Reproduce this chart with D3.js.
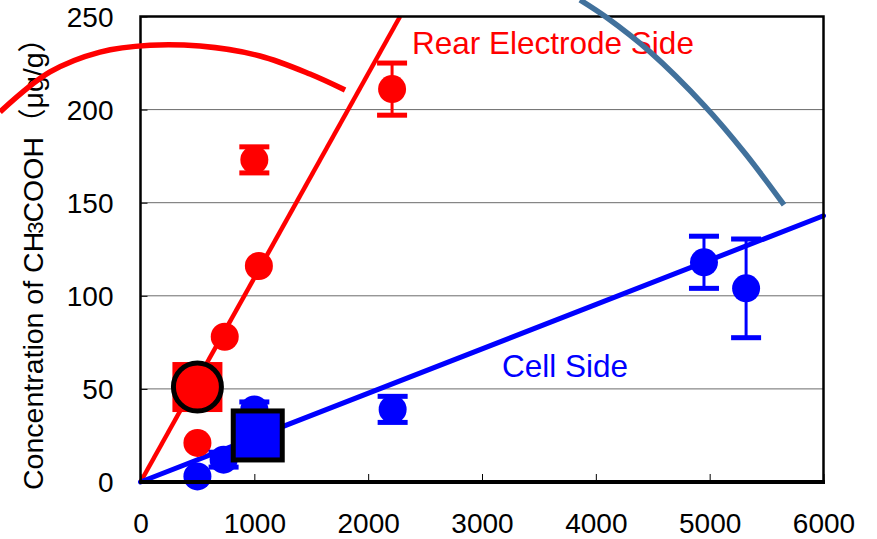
<!DOCTYPE html>
<html>
<head>
<meta charset="utf-8">
<script src="https://cdn.jsdelivr.net/npm/d3@7"></script>
<style>
  body { margin: 0; background: #fff; }
  text { font-family: Arial, "Liberation Sans", "Noto Sans CJK JP", sans-serif; }
</style>
</head>
<body>
<script>
// data
const xTicks = [0, 1000, 2000, 3000, 4000, 5000, 6000];
const yTicks = [0, 50, 100, 150, 200, 250];
const gridVals = [50, 100, 150, 200];

// rear electrode side
const rearX = [500, 740, 1040, 1000, 2210];
const rearY = [21, 78, 116, 173, 211];
const rearErr = [0, 0, 0, 7, 14];
const rearBig = [500, 51];
const rearFit = [[0, 0], [2280, 250]];

// cell side
const cellX = [500, 730, 1000, 2215, 4950, 5320];
const cellY = [3, 12, 39, 39, 118, 104];
const cellErr = [0, 4, 4, 7, 14, 26.5];
const cellBig = [1030, 25];
const cellFit = [[0, 0], [6000, 143]];

// hand drawn strokes laid over the chart
const redStrokeX = [-1234, -795, -356, 83, 523, 1050, 1489, 1797];
const redStrokeY = [198.7, 220.2, 230.9, 234.6, 234.1, 228.8, 219.1, 210.5];
const steelStrokeX = [3861, 4089, 4476, 4957, 5309, 5653];
const steelStrokeY = [258.9, 249.7, 231, 201.9, 176.7, 148.8];

const width = 877, height = 539;
const RED = "#ff0000", BLUE = "#0000ff", STEEL = "#41719c";

const x = d3.scaleLinear().domain([0, 6000]).range([140.5, 823.5]);
const y = d3.scaleLinear().domain([0, 250]).range([482, 16.5]);

const svg = d3.select("body").append("svg")
  .attr("width", width)
  .attr("height", height);

// gridlines
svg.append("g")
  .selectAll("line")
  .data(gridVals)
  .join("line")
  .attr("x1", x(0)).attr("x2", x(6000))
  .attr("y1", d => y(d)).attr("y2", d => y(d))
  .attr("stroke", "#6b6b6b")
  .attr("stroke-width", 1);

// fit lines
const line = d3.line().x(d => x(d[0])).y(d => y(d[1]));
svg.append("path").attr("d", line(rearFit))
  .attr("fill", "none").attr("stroke", RED).attr("stroke-width", 4.5);
svg.append("path").attr("d", line(cellFit))
  .attr("fill", "none").attr("stroke", BLUE).attr("stroke-width", 5)
  .attr("stroke-linecap", "round");

function drawSeries(xs, ys, errs, color) {
  const pts = xs.map((v, i) => ({x: v, y: ys[i], e: errs[i]}));
  const g = svg.append("g");
  const eb = g.selectAll("g.eb").data(pts.filter(d => d.e > 0)).join("g");
  eb.append("line")
    .attr("x1", d => x(d.x)).attr("x2", d => x(d.x))
    .attr("y1", d => y(d.y + d.e)).attr("y2", d => y(d.y - d.e))
    .attr("stroke", color).attr("stroke-width", 3);
  eb.selectAll("rect")
    .data(d => [d.y + d.e, d.y - d.e].map(v => ({x: d.x, v})))
    .join("rect")
    .attr("x", d => x(d.x) - 15).attr("width", 30)
    .attr("y", d => y(d.v) - 2.5).attr("height", 5)
    .attr("fill", color);
  g.selectAll("circle").data(pts).join("circle")
    .attr("cx", d => x(d.x)).attr("cy", d => y(d.y))
    .attr("r", 14)
    .attr("fill", color);
}

drawSeries(rearX, rearY, rearErr, RED);
drawSeries(cellX, cellY, cellErr, BLUE);

// highlighted points
svg.append("rect")
  .attr("x", x(rearBig[0]) - 25).attr("y", y(rearBig[1]) - 25)
  .attr("width", 50).attr("height", 50)
  .attr("fill", RED);
svg.append("circle")
  .attr("cx", x(rearBig[0])).attr("cy", y(rearBig[1]))
  .attr("r", 24)
  .attr("fill", RED).attr("stroke", "#000").attr("stroke-width", 5);
svg.append("rect")
  .attr("x", x(cellBig[0]) - 24.5).attr("y", y(cellBig[1]) - 24.5)
  .attr("width", 49).attr("height", 49)
  .attr("fill", BLUE).attr("stroke", "#000").attr("stroke-width", 5);

// axes
const xAxis = svg.append("g")
  .attr("transform", `translate(0,${y(0)})`)
  .call(d3.axisBottom(x).tickValues(xTicks).tickSize(-8).tickFormat(d3.format("d")));
xAxis.select(".domain").remove();
xAxis.selectAll("line").attr("stroke", "#000").attr("stroke-width", 1);
xAxis.selectAll("text")
  .attr("y", 51).attr("dy", 0)
  .attr("fill", "#000")
  .style("font-size", "28px")
  .style("font-family", "Arial, 'Liberation Sans', sans-serif");

const yAxis = svg.append("g")
  .attr("transform", `translate(${x(0)},0)`)
  .call(d3.axisLeft(y).tickValues(yTicks).tickSize(-7).tickFormat(d3.format("d")));
yAxis.select(".domain").remove();
yAxis.selectAll("line").attr("stroke", "#000").attr("stroke-width", 1);
yAxis.selectAll("text")
  .attr("x", -27).attr("dy", "0.35em")
  .attr("fill", "#000")
  .style("font-size", "28px")
  .style("font-family", "Arial, 'Liberation Sans', sans-serif");

// frame
svg.append("rect")
  .attr("x", x(0)).attr("y", y(250))
  .attr("width", x(6000) - x(0)).attr("height", y(0) - y(250))
  .attr("fill", "none").attr("stroke", "#000").attr("stroke-width", 2.5);
svg.append("line")
  .attr("x1", x(0) - 1).attr("x2", x(6000) + 1.5)
  .attr("y1", y(0)).attr("y2", y(0))
  .attr("stroke", "#000").attr("stroke-width", 4);

// series labels
svg.append("text")
  .attr("x", 412).attr("y", 54)
  .attr("fill", RED)
  .style("font-size", "31.5px")
  .text("Rear Electrode Side");
svg.append("text")
  .attr("x", 502).attr("y", 377)
  .attr("fill", BLUE)
  .style("font-size", "31.5px")
  .text("Cell Side");

// y axis title
const title = svg.append("text")
  .attr("transform", "translate(43,490) rotate(-90)")
  .attr("fill", "#000")
  .style("font-size", "28.5px");
title.append("tspan").text("Concentration of CH");
title.append("tspan").attr("dx", -2).style("font-size", "22px").text("3");
title.append("tspan").attr("dx", -1).text("COOH\uFF08\u03BCg/g\uFF09");

// strokes on top
const curve = d3.line().curve(d3.curveCatmullRom).x(d => x(d[0])).y(d => y(d[1]));
svg.append("path")
  .attr("d", curve(redStrokeX.map((v, i) => [v, redStrokeY[i]])))
  .attr("fill", "none").attr("stroke", RED).attr("stroke-width", 5.5);
svg.append("path")
  .attr("d", curve(steelStrokeX.map((v, i) => [v, steelStrokeY[i]])))
  .attr("fill", "none").attr("stroke", STEEL).attr("stroke-width", 5.5);
</script>
</body>
</html>
